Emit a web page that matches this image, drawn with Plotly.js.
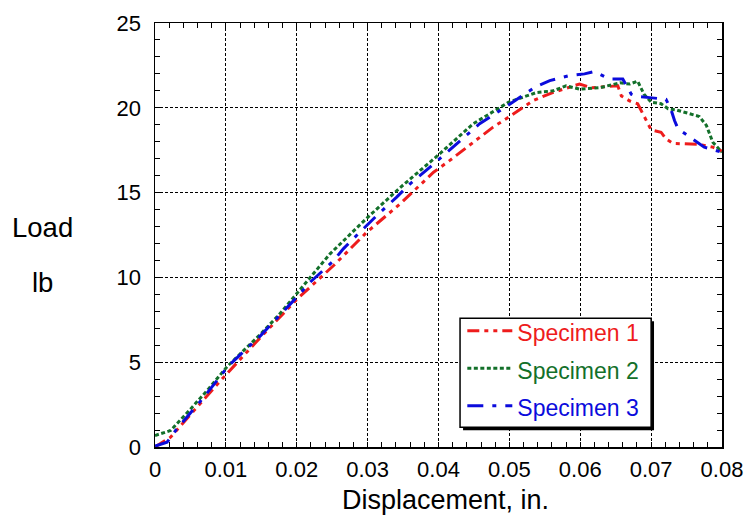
<!DOCTYPE html>
<html>
<head>
<meta charset="utf-8">
<script src="https://cdn.plot.ly/plotly-3.0.1.min.js"></script>
<style>html,body{margin:0;padding:0;background:#fff;}#chart{width:744px;height:516px;}</style>
</head>
<body>
<div id="chart"></div>
<script>
const seriesNames = ['Specimen 1', 'Specimen 2', 'Specimen 3'];
const xTickVals = [0, 0.01, 0.02, 0.03, 0.04, 0.05, 0.06, 0.07, 0.08];
const xTickText = ['0', '0.01', '0.02', '0.03', '0.04', '0.05', '0.06', '0.07', '0.08'];
const yTickVals = [0, 5, 10, 15, 20, 25];
const yTickText = ['0', '5', '10', '15', '20', '25'];
const xAxisTitle = 'Displacement, in.';
const yAxisTitleLines = ['Load', 'lb'];

const disp1 = [0, 0.0022, 0.0055, 0.0102, 0.0149, 0.02, 0.0252, 0.0299, 0.0346, 0.0393, 0.0416, 0.0449, 0.0477, 0.0499, 0.0534, 0.0561, 0.0599, 0.0616, 0.0653, 0.0658, 0.067, 0.0681, 0.0688, 0.0695, 0.07, 0.0714, 0.0721, 0.0731, 0.0768, 0.0787, 0.08];
const load1 = [0, 0.58, 2.15, 4.35, 6.47, 8.7, 10.7, 12.67, 14.34, 16.2, 16.9, 17.97, 18.86, 19.45, 20.43, 20.9, 21.4, 21.18, 21.3, 20.7, 20.4, 20.24, 19.65, 19.15, 18.7, 18.56, 18.17, 17.9, 17.84, 17.68, 17.45];

const disp2 = [0, 0.0022, 0.0045, 0.0075, 0.0102, 0.0125, 0.015, 0.0175, 0.02, 0.0247, 0.0299, 0.0346, 0.0399, 0.0449, 0.0499, 0.0538, 0.0562, 0.058, 0.0599, 0.0629, 0.0656, 0.067, 0.0681, 0.069, 0.07, 0.0714, 0.0724, 0.0735, 0.0768, 0.0778, 0.0787, 0.08];
const load2 = [0.68, 0.97, 2.0, 3.4, 4.75, 5.7, 6.7, 7.8, 9.03, 11.39, 13.5, 15.3, 17.19, 19.06, 20.33, 20.9, 21.0, 21.3, 21.1, 21.2, 21.47, 21.4, 21.57, 20.8, 20.33, 20.24, 19.94, 19.88, 19.49, 18.96, 17.97, 17.38];

const disp3 = [0, 0.0017, 0.0029, 0.0069, 0.0104, 0.0149, 0.02, 0.0219, 0.025, 0.0266, 0.0294, 0.0313, 0.0341, 0.036, 0.0388, 0.0407, 0.0437, 0.0458, 0.0487, 0.0515, 0.0538, 0.0557, 0.0585, 0.0606, 0.062, 0.0641, 0.066, 0.0672, 0.0679, 0.0698, 0.0721, 0.0728, 0.0733, 0.0738, 0.0757, 0.0775, 0.08];
const load3 = [0.05, 0.28, 0.97, 2.94, 4.8, 6.57, 8.83, 9.72, 10.9, 11.7, 12.87, 13.65, 14.73, 15.52, 16.5, 17.19, 18.3, 19.06, 19.84, 20.62, 21.26, 21.6, 21.9, 22.0, 22.14, 21.7, 21.7, 20.8, 20.67, 20.6, 20.5, 19.9, 19.25, 18.76, 18.2, 17.68, 17.38];

const colors = ['#ee1c1c', '#13702a', '#0b0bdc'];
const dashes = ['12px,5px,4px,5px,4px,5px', '4px,2.5px', '16px,9px,4px,9px'];
const xs = [disp1, disp2, disp3];
const ys = [load1, load2, load3];

const traces = xs.map((x, i) => ({
  x: x, y: ys[i], type: 'scatter', mode: 'lines',
  name: '<span style="color:' + colors[i] + ';font-size:23px">' + seriesNames[i] + '</span>',
  line: {color: colors[i], width: 3, dash: dashes[i]}
}));

const fontFam = 'Liberation Sans, Arial, Helvetica, sans-serif';
const axisCommon = {
  showline: true, linecolor: '#000', linewidth: 1.5, mirror: 'ticks',
  ticks: 'inside', ticklen: 0, tickcolor: '#000',
  showgrid: true, gridcolor: '#000', gridwidth: 1, griddash: '3px,2px',
  zeroline: false, tickfont: {family: fontFam, size: 22, color: '#000'},
  fixedrange: true
};

const layout = {
  width: 744, height: 516,
  margin: {l: 155, r: 22, t: 23, b: 69},
  paper_bgcolor: '#fff', plot_bgcolor: '#fff',
  showlegend: true,
  font: {family: fontFam, color: '#000'},
  xaxis: Object.assign({}, axisCommon, {
    range: [0, 0.08], tickvals: xTickVals, ticktext: xTickText,
    ticklabelstandoff: 2,
    minor: {dtick: 0.002, ticks: 'inside', ticklen: 5, tickcolor: '#000', tickwidth: 1, showgrid: false}
  }),
  yaxis: Object.assign({}, axisCommon, {
    range: [0, 25], tickvals: yTickVals, ticktext: yTickText,
    ticklabelstandoff: 8,
    minor: {dtick: 1, ticks: 'inside', ticklen: 5, tickcolor: '#000', tickwidth: 1, showgrid: false}
  }),
  legend: {
    x: 0.542, y: 0.330, xanchor: 'left', yanchor: 'top',
    bgcolor: 'rgba(0,0,0,0)', borderwidth: 0,
    font: {family: fontFam, size: 26.5}, itemwidth: 45, tracegroupgap: 0
  },
  shapes: [
    {type: 'rect', xref: 'paper', yref: 'paper', layer: 'above',
     x0: 0.5433, x1: 0.8801, y0: 0.0394, y1: 0.2965,
     fillcolor: '#000', line: {width: 0}},
    {type: 'rect', xref: 'paper', yref: 'paper', layer: 'above',
     x0: 0.538, x1: 0.875, y0: 0.0465, y1: 0.3035,
     fillcolor: '#fff', line: {color: '#000', width: 1.5}}
  ],
  annotations: [
    {text: xAxisTitle, xref: 'paper', yref: 'paper', x: 0.512, y: -0.1245, yanchor: 'middle', showarrow: false, xanchor: 'center', font: {family: fontFam, size: 27}},
    {text: yAxisTitleLines[0], xref: 'paper', yref: 'paper', x: -0.199, y: 0.518, showarrow: false, xanchor: 'center', font: {family: fontFam, size: 27.5}},
    {text: yAxisTitleLines[1], xref: 'paper', yref: 'paper', x: -0.199, y: 0.388, showarrow: false, xanchor: 'center', font: {family: fontFam, size: 27.5}}
  ]
};

Plotly.newPlot('chart', traces, layout, {displayModeBar: false, staticPlot: true});
</script>
</body>
</html>
